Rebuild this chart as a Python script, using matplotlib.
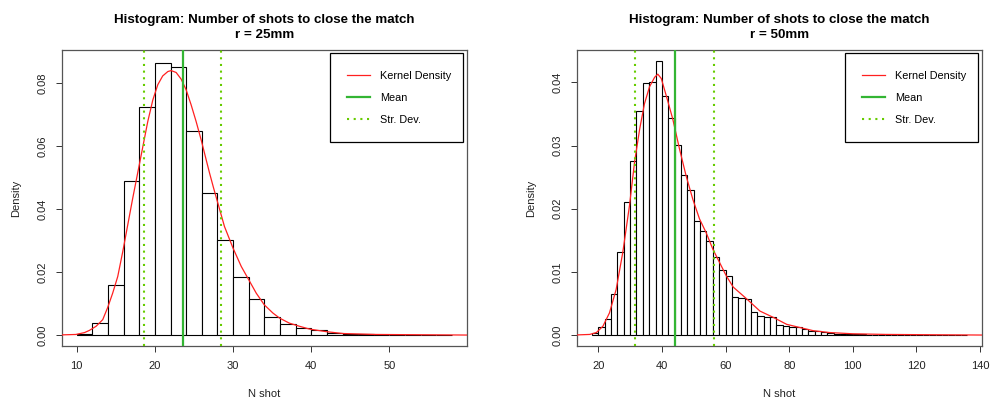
import numpy as np
import matplotlib
matplotlib.use('Agg')
import matplotlib.pyplot as plt
from matplotlib.lines import Line2D

plt.rcParams['font.family'] = ['Liberation Sans', 'DejaVu Sans']

# r = 25mm : histogram (bin width 2 starting at 10), density values
edges25 = np.arange(10, 60, 2)
dens25 = [0.0003, 0.0039, 0.0158, 0.0490, 0.0725, 0.0865, 0.0851, 0.0649, 0.0451,
          0.0301, 0.0184, 0.0114, 0.0057, 0.0035, 0.0023, 0.0015, 0.0008, 0.0004,
          0.0002, 0.0001, 0.00005, 0.00005, 0.00003, 0.00002]
kde25_x = [7.0, 9.9, 11.0, 11.63, 12.48, 13.33, 13.97, 14.6, 15.25, 15.9, 16.53, 17.17,
           17.81, 18.45, 19.09, 19.74, 20.37, 21.0, 21.66, 22.08, 22.72, 23.36, 24.0,
           24.64, 25.28, 25.92, 26.6, 27.0, 27.5, 28.0, 28.9, 30.0, 31.05, 32.0, 32.97,
           34.0, 35.1, 35.95, 37.2, 38.5, 39.8, 41.9, 44.06, 48.3, 54.7, 61.0]
kde25_y = [0.0, 0.0002, 0.0008, 0.0015, 0.0028, 0.0049, 0.0088, 0.0133, 0.0186, 0.0266,
           0.0350, 0.0435, 0.0516, 0.0597, 0.0678, 0.0747, 0.0795, 0.0823, 0.0837,
           0.0840, 0.0834, 0.0813, 0.0779, 0.0731, 0.0678, 0.0620, 0.0553, 0.0514,
           0.0468, 0.0424, 0.0345, 0.0276, 0.0218, 0.0176, 0.0133, 0.0096, 0.0070,
           0.0054, 0.0038, 0.0028, 0.0019, 0.0011, 0.0005, 0.0002, 0.0001, 0.0]
mean25 = 23.55
sd25 = 4.95

# r = 50mm : histogram (bin width 2 starting at 18)
edges50 = np.arange(18, 136, 2)
dens50 = [0.0003, 0.0013, 0.0026, 0.0065, 0.0131, 0.0210, 0.0276, 0.0354, 0.0399,
          0.0401, 0.0434, 0.0379, 0.0343, 0.0301, 0.0253, 0.0229, 0.0181, 0.0165,
          0.0149, 0.0124, 0.0103, 0.0094, 0.0060, 0.0058, 0.0057, 0.0037, 0.0030,
          0.0029, 0.0029, 0.0016, 0.0015, 0.0013, 0.0013, 0.0009, 0.0007, 0.0006,
          0.0005, 0.0003, 0.0002, 0.0002, 0.00015, 0.0001, 0.0001, 0.00008, 0.00008,
          0.00006, 0.00006, 0.00005, 0.00005, 0.00004, 0.00004, 0.00003, 0.00003,
          0.00003, 0.00002, 0.00002, 0.00002, 0.00002, 0.00002]
kde50_x = [12.0, 17.3, 19.4, 21.45, 23.5, 25.6, 27.7, 29.8, 31.4, 33.0, 34.5, 36.1,
           37.7, 38.7, 39.8, 41.35, 43.4, 45.5, 47.6, 49.7, 51.8, 53.9, 56.0, 58.1,
           60.2, 62.4, 66.7, 70.8, 75.0, 79.2, 83.3, 87.5, 92.7, 100.0, 110.4, 125.0, 142.0]
kde50_y = [0.0, 0.0001, 0.0004, 0.0014, 0.0035, 0.0072, 0.0131, 0.0205, 0.0274, 0.0326,
           0.0366, 0.0393, 0.0408, 0.0413, 0.0406, 0.0379, 0.0342, 0.0295, 0.0252,
           0.0215, 0.0184, 0.0162, 0.0136, 0.0115, 0.0094, 0.0076, 0.0057, 0.0038,
           0.0028, 0.0017, 0.0012, 0.0007, 0.0004, 0.0002, 0.0001, 0.00005, 0.0]
mean50 = 44.0
sd50 = 12.4

panels = [
    ("r = 25mm", edges25, dens25, kde25_x, kde25_y, mean25, sd25,
     (8.08, 59.92), [10, 20, 30, 40, 50], (-0.00348, 0.0905), [0, 0.02, 0.04, 0.06, 0.08]),
    ("r = 50mm", edges50, dens50, kde50_x, kde50_y, mean50, sd50,
     (13.2, 140.6), [20, 40, 60, 80, 100, 120, 140], (-0.00174, 0.0451), [0, 0.01, 0.02, 0.03, 0.04]),
]

fig = plt.figure(figsize=(9.9, 4.01), dpi=100)
lefts = [0.0623, 0.5825]
green = '#33b533'
lgreen = '#66cc00'

for left, p in zip(lefts, panels):
    sub, edges, dens, kx, ky, mu, sd, xl, xt, yl, yt = p
    ax = fig.add_axes([left, 0.137, 0.4094, 0.738])
    ax.bar(edges[:len(dens)], dens, width=2, align='edge', color='white',
           edgecolor='black', linewidth=0.8, zorder=1)
    ax.plot(kx, ky, color='#ff2020', lw=0.9, zorder=3)
    ax.axvline(mu, color=green, lw=1.6, zorder=4)
    ax.axvline(mu - sd, color=lgreen, lw=1.5, ls=(0, (1, 2.2)), zorder=4)
    ax.axvline(mu + sd, color=lgreen, lw=1.5, ls=(0, (1, 2.2)), zorder=4)
    ax.set_xlim(*xl)
    ax.set_ylim(*yl)
    ax.set_xticks(xt)
    ax.set_yticks(yt)
    ax.set_yticklabels(['%.2f' % v for v in yt], rotation=90, va='center')
    ax.tick_params(direction='out', length=4.3, width=0.7, color='#333333',
                   labelsize=8, labelcolor='#222222')
    ax.tick_params(axis='x', pad=6.5)
    ax.tick_params(axis='y', pad=5.5)
    for s in ax.spines.values():
        s.set_color('#555555')
        s.set_linewidth(0.9)
    ax.set_title("Histogram: Number of shots to close the match\n" + sub,
                 fontsize=9.6, fontweight='bold', pad=9, linespacing=1.3)
    ax.set_xlabel("N shot", fontsize=8, labelpad=13, color='#222222')
    ax.set_ylabel("Density", fontsize=8, labelpad=12, color='#222222')
    handles = [Line2D([], [], color='#ff2020', lw=0.9),
               Line2D([], [], color=green, lw=1.6),
               Line2D([], [], color=lgreen, lw=1.5, ls=(0, (1, 2.2)))]
    leg = ax.legend(handles, ["Kernel Density", "Mean", "Str. Dev."],
                    loc='upper left', bbox_to_anchor=(0.662, 0.0, 0.328, 0.989),
                    mode='expand', borderaxespad=0, fontsize=7.8, frameon=True,
                    fancybox=False, edgecolor='black', framealpha=1, borderpad=1.6,
                    labelspacing=1.1, handlelength=2.1, handletextpad=0.9)
    leg.get_frame().set_linewidth(0.9)

plt.savefig('out.png', dpi=100)
